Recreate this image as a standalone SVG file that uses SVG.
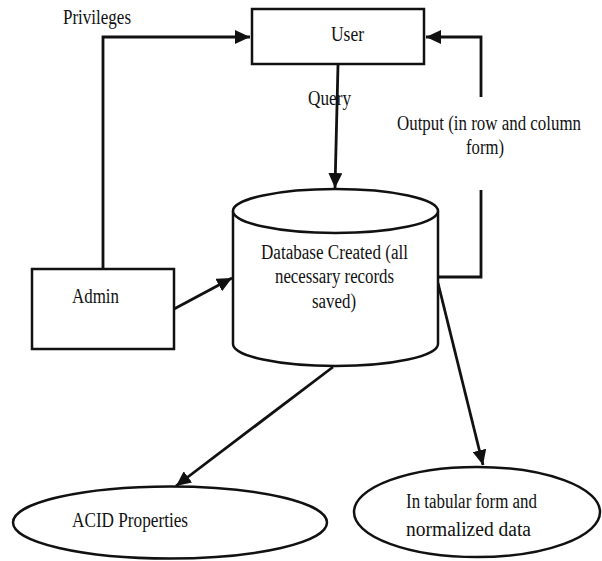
<svg xmlns="http://www.w3.org/2000/svg" width="602" height="561" viewBox="0 0 602 561">
<style>
text{font-family:"Liberation Serif","Times New Roman","DejaVu Serif",serif;font-size:20px;fill:#111}
.shape{fill:#fff;stroke:#111;stroke-width:2.5}
.conn{fill:none;stroke:#111;stroke-width:2.8}
</style>
<defs>
<marker id="ah" markerUnits="userSpaceOnUse" markerWidth="16" markerHeight="14" refX="15" refY="7" orient="auto">
<path d="M0,0 L15,7 L0,14 z" fill="#111"/>
</marker>
</defs>
<rect width="602" height="561" fill="#fff"/>
<g id="connectors">
<polyline class="conn" points="103,269 103,37 250,37" marker-end="url(#ah)"/>
<line class="conn" x1="338" y1="65" x2="335" y2="188" marker-end="url(#ah)"/>
<polyline class="conn" points="438,277 481,277 481,190"/>
<polyline class="conn" points="481,97 481,37 426,37" marker-end="url(#ah)"/>
<line class="conn" x1="174" y1="309" x2="232" y2="278" marker-end="url(#ah)"/>
<line class="conn" x1="333" y1="367" x2="176" y2="486" marker-end="url(#ah)"/>
<line class="conn" x1="438" y1="283" x2="483" y2="465" marker-end="url(#ah)"/>
<text font-family="Liberation Serif, serif" x="63" y="24" textLength="68" lengthAdjust="spacingAndGlyphs">Privileges</text>
<text font-family="Liberation Serif, serif" x="308" y="105" textLength="43" lengthAdjust="spacingAndGlyphs">Query</text>
<text font-family="Liberation Serif, serif" x="397" y="130" textLength="184" lengthAdjust="spacingAndGlyphs">Output (in row and column</text>
<text font-family="Liberation Serif, serif" x="466" y="154" textLength="38" lengthAdjust="spacingAndGlyphs">form)</text>
</g>
<g id="user">
<rect class="shape" x="252" y="9" width="172" height="55"/>
<text font-family="Liberation Serif, serif" x="331" y="41" textLength="33" lengthAdjust="spacingAndGlyphs">User</text>
</g>
<g id="database">
<path class="shape" d="M233,211 L233,344 A102.5,22 0 0 0 438,344 L438,211"/>
<ellipse class="shape" cx="335.5" cy="211" rx="102.5" ry="22"/>
<text font-family="Liberation Serif, serif" x="261" y="259" textLength="147" lengthAdjust="spacingAndGlyphs">Database Created (all</text>
<text font-family="Liberation Serif, serif" x="275" y="283" textLength="119" lengthAdjust="spacingAndGlyphs">necessary records</text>
<text font-family="Liberation Serif, serif" x="312" y="308" textLength="44" lengthAdjust="spacingAndGlyphs">saved)</text>
</g>
<g id="admin">
<rect class="shape" x="32" y="269" width="142" height="80"/>
<text font-family="Liberation Serif, serif" x="72" y="303" textLength="47" lengthAdjust="spacingAndGlyphs">Admin</text>
</g>
<g id="acid">
<ellipse class="shape" cx="170" cy="522.5" rx="157" ry="36"/>
<text font-family="Liberation Serif, serif" x="72" y="527" textLength="116" lengthAdjust="spacingAndGlyphs">ACID Properties</text>
</g>
<g id="tabular">
<ellipse class="shape" cx="477" cy="512" rx="123" ry="45"/>
<text font-family="Liberation Serif, serif" x="406" y="508" textLength="131" lengthAdjust="spacingAndGlyphs">In tabular form and</text>
<text font-family="Liberation Serif, serif" x="406" y="536" textLength="125" lengthAdjust="spacingAndGlyphs">normalized data</text>
</g>
</svg>
